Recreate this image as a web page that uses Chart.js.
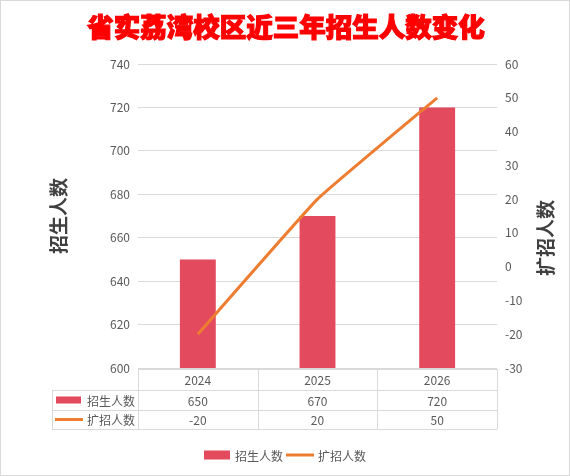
<!DOCTYPE html>
<html>
<head>
<meta charset="utf-8">
<script src="https://cdn.jsdelivr.net/npm/chart.js@4/dist/chart.umd.min.js"></script>
<style>
  html, body { margin: 0; padding: 0; background: #fff; }
  #wrap { width: 570px; height: 476px; position: relative; }
</style>
</head>
<body>
<div id="wrap"><canvas id="c" width="570" height="476"></canvas></div>
<script>
const chartTitle = '省实荔湾校区近三年招生人数变化';
const years = ['2024', '2025', '2026'];
const enrollment = [650, 670, 720];
const expansion = [-20, 20, 50];
const seriesNames = ['招生人数', '扩招人数'];
const leftAxisRange = [600, 740, 20];
const rightAxisRange = [-30, 60, 10];

const FONT = "'Noto Sans CJK SC', 'Noto Sans', sans-serif";
const barColor = '#e44a5e';
const lineColor = '#ed7d31';
const gridColor = '#d9d9d9';
const textColor = '#595959';

const extras = {
  id: 'extras',
  afterDraw(chart) {
    const ctx = chart.ctx;
    const area = chart.chartArea;
    const xs = chart.scales.x;
    const n = years.length;
    const cw = (area.right - area.left) / n;
    ctx.save();
    // outer frame
    ctx.strokeStyle = '#d9d9d9';
    ctx.lineWidth = 1;
    ctx.strokeRect(0.5, 0.5, 569, 475);
    // title
    ctx.font = "900 26.5px " + FONT;
    ctx.textAlign = 'center';
    ctx.textBaseline = 'middle';
    ctx.fillStyle = '#ff0000';
    ctx.strokeStyle = '#ff0000';
    ctx.lineWidth = 1.2;
    ctx.fillText(chartTitle, 286, 27);
    ctx.strokeText(chartTitle, 286, 27);

    // right axis title (reads bottom to top)
    ctx.save();
    ctx.translate(546, 238);
    ctx.rotate(-Math.PI / 2);
    ctx.font = "bold 19px " + FONT;
    ctx.fillStyle = '#404040';
    ctx.fillText(seriesNames[1], 0, 0);
    ctx.restore();

    // data table
    const top = area.bottom + 1;
    const r1 = top + 21, r2 = r1 + 20, r3 = r2 + 19;
    const tblLeft = 52;
    ctx.strokeStyle = gridColor;
    ctx.lineWidth = 1;
    ctx.beginPath();
    ctx.moveTo(area.left, top + 0.5); ctx.lineTo(area.right, top + 0.5);
    [r1, r2, r3].forEach(y => { ctx.moveTo(tblLeft, y + 0.5); ctx.lineTo(area.right, y + 0.5); });
    for (let i = 0; i <= n; i++) {
      const x = Math.round(area.left + i * cw) + 0.5;
      ctx.moveTo(x, top); ctx.lineTo(x, r3 + 0.5);
    }
    ctx.moveTo(tblLeft + 0.5, r1); ctx.lineTo(tblLeft + 0.5, r3 + 0.5);
    ctx.stroke();

    ctx.font = "12px " + FONT;
    ctx.fillStyle = textColor;
    ctx.textAlign = 'center';
    ctx.textBaseline = 'middle';
    for (let i = 0; i < n; i++) {
      const cx = xs.getPixelForValue(i);
      ctx.fillText(years[i], cx, (top + r1) / 2 + 1);
      ctx.fillText(String(enrollment[i]), cx, (r1 + r2) / 2 + 1);
      ctx.fillText(String(expansion[i]), cx, (r2 + r3) / 2 + 1);
    }
    // row headers
    ctx.textAlign = 'left';
    const y1 = (r1 + r2) / 2, y2 = (r2 + r3) / 2;
    ctx.fillStyle = barColor;
    ctx.fillRect(56, y1 - 3.5, 25, 7);
    ctx.strokeStyle = lineColor;
    ctx.lineWidth = 3;
    ctx.beginPath(); ctx.moveTo(55, y2); ctx.lineTo(83, y2); ctx.stroke();
    ctx.fillStyle = textColor;
    ctx.fillText(seriesNames[0], 87, y1 + 1);
    ctx.fillText(seriesNames[1], 87, y2 + 1);

    // legend
    const ly = 455;
    const w0 = ctx.measureText(seriesNames[0]).width;
    const w1 = ctx.measureText(seriesNames[1]).width;
    const total = 26 + 5 + w0 + 3 + 28 + 4 + w1;
    let lx = 285 - total / 2;
    ctx.fillStyle = barColor;
    ctx.fillRect(lx, ly - 4.5, 26, 9);
    lx += 31;
    ctx.fillStyle = textColor;
    ctx.fillText(seriesNames[0], lx, ly + 1);
    lx += w0 + 3;
    ctx.strokeStyle = lineColor;
    ctx.lineWidth = 3;
    ctx.beginPath(); ctx.moveTo(lx, ly); ctx.lineTo(lx + 28, ly); ctx.stroke();
    lx += 32;
    ctx.fillText(seriesNames[1], lx, ly + 1);
    ctx.restore();
  }
};

new Chart(document.getElementById('c'), {
  data: {
    labels: years,
    datasets: [
      {
        type: 'line',
        label: seriesNames[1],
        data: expansion,
        yAxisID: 'y1',
        borderColor: lineColor,
        backgroundColor: lineColor,
        borderWidth: 3,
        pointRadius: 0,
        tension: 0.1,
        order: 0
      },
      {
        type: 'bar',
        label: seriesNames[0],
        data: enrollment,
        yAxisID: 'y',
        backgroundColor: barColor,
        barPercentage: 0.3,
        categoryPercentage: 1.0,
        order: 1
      }
    ]
  },
  options: {
    responsive: false,
    animation: false,
    layout: { padding: { top: 64, bottom: 108, left: 0, right: 0 } },
    plugins: {
      legend: { display: false },
      title: { display: false },
      tooltip: { enabled: false }
    },
    scales: {
      x: { display: false },
      y: {
        position: 'left',
        min: leftAxisRange[0], max: leftAxisRange[1],
        ticks: { stepSize: leftAxisRange[2], padding: 8, color: textColor, font: { size: 12, family: FONT } },
        grid: { color: gridColor, drawTicks: false },
        border: { display: false },
        title: { display: true, text: seriesNames[0], color: '#404040', padding: { top: 47, bottom: 0 },
                 font: { size: 19, weight: 'bold', family: FONT } },
        afterFit(s) { s.width = 138; }
      },
      y1: {
        position: 'right',
        min: rightAxisRange[0], max: rightAxisRange[1],
        ticks: { stepSize: rightAxisRange[2], padding: 8, color: textColor, font: { size: 12, family: FONT } },
        grid: { display: false, drawTicks: false },
        border: { display: false },
        title: { display: false },
        afterFit(s) { s.width = 73; }
      }
    }
  },
  plugins: [extras]
});
</script>
</body>
</html>
